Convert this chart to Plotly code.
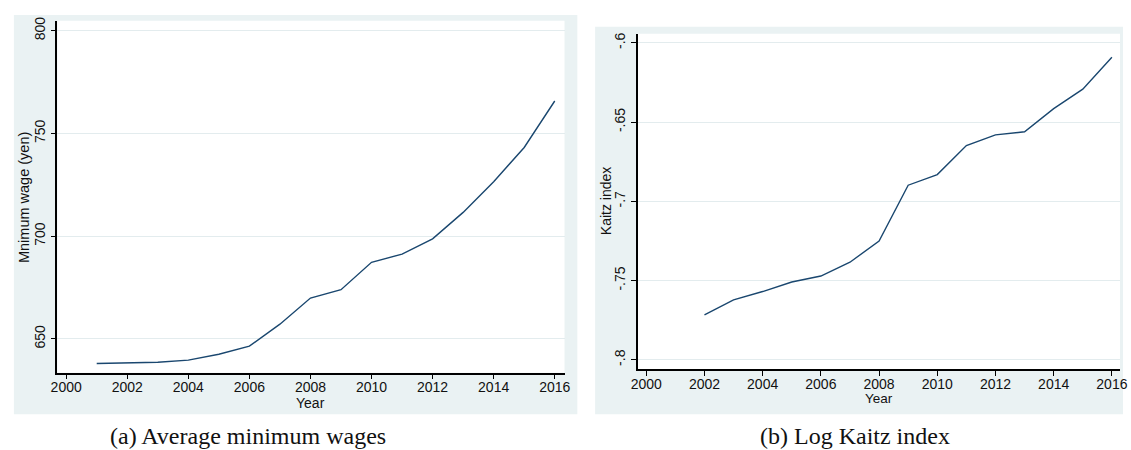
import plotly.graph_objects as go

# Panel (a): average minimum wage by year (yen)
wage_years = [2001, 2002, 2003, 2004, 2005, 2006, 2007, 2008,
              2009, 2010, 2011, 2012, 2013, 2014, 2015, 2016]
min_wage = [638.1, 638.5, 638.7, 639.7, 642.6, 646.5, 657.2, 669.9,
            674.0, 687.3, 691.3, 698.7, 711.6, 726.5, 743.2, 765.8]

# Panel (b): log Kaitz index by year
kaitz_years = [2002, 2003, 2004, 2005, 2006, 2007, 2008, 2009,
               2010, 2011, 2012, 2013, 2014, 2015, 2016]
log_kaitz = [-0.7717, -0.7621, -0.7569, -0.7509, -0.7471, -0.7384, -0.7250,
             -0.6898, -0.6831, -0.6648, -0.6580, -0.6561, -0.6415, -0.6292,
             -0.6090]

year_ticks = [2000, 2002, 2004, 2006, 2008, 2010, 2012, 2014, 2016]
wage_ticks = [650, 700, 750, 800]
kaitz_ticks = [-0.8, -0.75, -0.7, -0.65, -0.6]
kaitz_labels = ["-.8", "-.75", "-.7", "-.65", "-.6"]

W, H = 1131, 450
NAVY = "#1a476f"
PANEL_BG = "#eaf2f3"
GRID = "#e3ecee"
SANS = "Liberation Sans, Arial, sans-serif"
SERIF = "Liberation Serif, Times New Roman, serif"


def px(x):
    return x / W


def py(y):
    return 1 - y / H


# pixel boxes of the two plotting regions: (left, top, right, bottom)
BOX_A = (51, 17, 565, 372)
BOX_B = (639, 30, 1128, 368.3)

fig = go.Figure()
fig.add_trace(go.Scatter(x=wage_years, y=min_wage, mode="lines",
                         line=dict(color=NAVY, width=1.4),
                         xaxis="x", yaxis="y", showlegend=False))
fig.add_trace(go.Scatter(x=kaitz_years, y=log_kaitz, mode="lines",
                         line=dict(color=NAVY, width=1.4),
                         xaxis="x2", yaxis="y2", showlegend=False))

axis_common = dict(showline=True, linecolor="black", linewidth=1.5,
                   ticks="outside", ticklen=5, tickwidth=1.2,
                   tickcolor="black", zeroline=False, fixedrange=True,
                   tickfont=dict(family=SANS, size=14, color="#111"))

shapes = [
    # light panel backgrounds
    dict(type="rect", xref="paper", yref="paper", layer="below",
         x0=px(7), x1=px(578), y0=py(414), y1=py(11),
         fillcolor=PANEL_BG, line=dict(width=0)),
    dict(type="rect", xref="paper", yref="paper", layer="below",
         x0=px(596), x1=px(1131), y0=py(414), y1=py(23),
         fillcolor=PANEL_BG, line=dict(width=0)),
    # white plotting regions
    dict(type="rect", xref="paper", yref="paper", layer="below",
         x0=px(BOX_A[0]), x1=px(BOX_A[2]), y0=py(BOX_A[3]), y1=py(BOX_A[1]),
         fillcolor="white", line=dict(width=0)),
    dict(type="rect", xref="paper", yref="paper", layer="below",
         x0=px(BOX_B[0]), x1=px(BOX_B[2]), y0=py(BOX_B[3]), y1=py(BOX_B[1]),
         fillcolor="white", line=dict(width=0)),
]

fig.update_layout(
    width=W, height=H, autosize=False,
    margin=dict(l=0, r=0, t=0, b=0),
    paper_bgcolor="white", plot_bgcolor="white",
    xaxis=dict(domain=[px(BOX_A[0]), px(BOX_A[2])], range=[1999.71, 2016.32],
               tickvals=year_ticks, showgrid=False, anchor="y",
               ticklabelstandoff=-4, **axis_common),
    yaxis=dict(domain=[py(BOX_A[3]), py(BOX_A[1])], range=[633.6, 804.8],
               tickvals=wage_ticks, tickangle=-90, showgrid=True,
               gridcolor=GRID, gridwidth=1, anchor="x", **axis_common),
    xaxis2=dict(domain=[px(BOX_B[0]), px(BOX_B[2])], range=[1999.70, 2016.28],
                tickvals=year_ticks, showgrid=False, anchor="y2",
                ticklabelstandoff=-4, **axis_common),
    yaxis2=dict(domain=[py(BOX_B[3]), py(BOX_B[1])], range=[-0.8058, -0.5942],
                tickvals=kaitz_ticks, ticktext=kaitz_labels, tickangle=-90,
                showgrid=True, gridcolor=GRID, gridwidth=1, anchor="x2",
                **axis_common),
    shapes=shapes,
)


def label(text, x, y, size, family=SANS, angle=0):
    fig.add_annotation(text=text, xref="paper", yref="paper",
                       x=px(x), y=py(y), xanchor="center", yanchor="middle",
                       showarrow=False, textangle=angle,
                       font=dict(family=family, size=size, color="#111"))


label("Mnimum wage (yen)", 18, 195, 14.5, angle=-90)
label("Year", 308, 403, 14)
label("Kaitz index", 607, 199, 14, angle=-90)
label("Year", 884, 398, 13.5)
label("(a) Average minimum wages", 244, 436, 24, family=SERIF)
label("(b) Log Kaitz index", 859, 436, 24, family=SERIF)

fig.write_html("out.html")
